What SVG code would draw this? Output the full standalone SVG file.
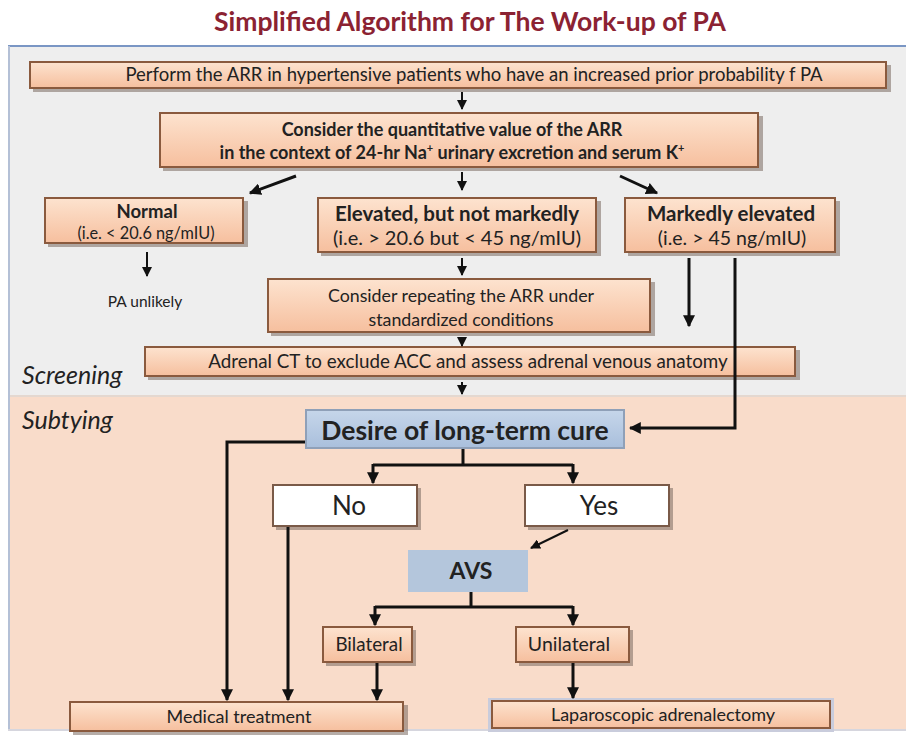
<svg xmlns="http://www.w3.org/2000/svg" width="906" height="740" viewBox="0 0 906 740">
<defs>
<linearGradient id="peach" x1="0" y1="0" x2="0" y2="1"><stop offset="0" stop-color="#FDE3CF"/><stop offset="1" stop-color="#F6BF9E"/></linearGradient>
<linearGradient id="blue" x1="0" y1="0" x2="0" y2="1"><stop offset="0" stop-color="#C6D6EA"/><stop offset="1" stop-color="#A9BFDC"/></linearGradient>
<marker id="ah" viewBox="0 0 10 10" refX="9" refY="5" markerWidth="4" markerHeight="4" orient="auto" markerUnits="strokeWidth"><path d="M0,0 L10,5 L0,10 z" fill="#111"/></marker>
<marker id="ahs" viewBox="0 0 10 10" refX="9" refY="5" markerWidth="5" markerHeight="5" orient="auto" markerUnits="strokeWidth"><path d="M0,0 L10,5 L0,10 z" fill="#111"/></marker>
</defs>
<style>
.bx{fill:url(#peach);stroke:#8A5A3E;stroke-width:2}
.sh{fill:#7a6a60;opacity:0.55}
.t{font-family:Lato,"Open Sans",sans-serif;fill:#222;text-anchor:middle}
.b{font-weight:bold}
.ln{stroke:#111;stroke-width:3;fill:none}
.ln2{stroke:#111;stroke-width:2;fill:none}
.wb{fill:#fff;stroke:#7A5A48;stroke-width:2}
.it{font-family:Lato,"Open Sans",sans-serif;font-style:italic;fill:#222;font-size:25px}
</style>
<rect x="0" y="0" width="906" height="740" fill="#fff"/>
<text x="470" y="31" font-family="Lato,'Open Sans',sans-serif" font-weight="bold" font-size="26.5" fill="#8B2232" text-anchor="middle">Simplified Algorithm for The Work-up of PA</text>
<g id="background">
<rect x="8" y="46" width="898" height="350" fill="#EEEEEE"/>
<rect x="8" y="396" width="898" height="334" fill="#F9DCCA"/>
<line x1="8" y1="396" x2="906" y2="396" stroke="#E4D8D0" stroke-width="2"/>
<line x1="8" y1="46" x2="906" y2="46" stroke="#7A96C4" stroke-width="2"/>
<line x1="9" y1="46" x2="9" y2="730" stroke="#B4C0D6" stroke-width="2"/>
<line x1="8" y1="730" x2="906" y2="730" stroke="#D6D6DE" stroke-width="2"/>
<text class="it" x="22" y="384">Screening</text>
<text class="it" x="22" y="429">Subtying</text>
</g>
<g id="n1">
<rect class="sh" x="33" y="65" width="858" height="27"/>
<rect class="bx" x="30" y="62" width="856" height="26"/>
<text class="t" x="474" y="81" font-size="18.5">Perform the ARR in hypertensive patients who have an increased prior probability f PA</text>
</g>
<g id="n2">
<rect class="sh" x="163" y="116" width="600" height="55"/>
<rect class="bx" x="160" y="113" width="598" height="54"/>
<text class="t b" x="452" y="136" font-size="18">Consider the quantitative value of the ARR</text>
<text class="t b" x="452" y="159" font-size="18">in the context of 24-hr Na<tspan font-size="11" dy="-7">+</tspan><tspan dy="7"> urinary excretion and serum K</tspan><tspan font-size="11" dy="-7">+</tspan></text>
</g>
<g id="n3">
<rect class="sh" x="48" y="201" width="200" height="46"/>
<rect class="bx" x="45" y="198" width="198" height="45"/>
<text class="t b" x="147" y="218" font-size="18.5">Normal</text>
<text class="t" x="146" y="239" font-size="16.3">(i.e. &lt; 20.6 ng/mIU)</text>
</g>
<g id="n4">
<rect class="sh" x="321" y="201" width="280" height="55"/>
<rect class="bx" x="318" y="198" width="278" height="54"/>
<text class="t b" x="457" y="221" font-size="20.5">Elevated, but not markedly</text>
<text class="t" x="457" y="245" font-size="20">(i.e. &gt; 20.6 but &lt; 45 ng/mIU)</text>
</g>
<g id="n5">
<rect class="sh" x="628" y="201" width="212" height="55"/>
<rect class="bx" x="625" y="198" width="210" height="54"/>
<text class="t b" x="731" y="221" font-size="20.5">Markedly elevated</text>
<text class="t" x="732" y="245" font-size="19.5">(i.e. &gt; 45 ng/mIU)</text>
</g>
<g id="n6">
<text class="t" x="145" y="307" font-size="15.5">PA unlikely</text>
</g>
<g id="n7">
<rect class="sh" x="271" y="282" width="384" height="54"/>
<rect class="bx" x="268" y="279" width="382" height="53"/>
<text class="t" x="461" y="302" font-size="17.8">Consider repeating the ARR under</text>
<text class="t" x="461" y="326" font-size="17.8">standardized conditions</text>
</g>
<g id="n8">
<rect class="sh" x="148" y="350" width="652" height="30"/>
<rect class="bx" x="145" y="347" width="650" height="29"/>
<text class="t" x="468" y="368" font-size="18.8">Adrenal CT to exclude ACC and assess adrenal venous anatomy</text>
</g>
<g id="n9">
<rect x="306" y="410" width="318" height="38" fill="url(#blue)" stroke="#8FA0B8" stroke-width="2"/>
<text class="t b" x="465" y="440" font-size="26.5">Desire of long-term cure</text>
</g>
<g id="n10">
<rect class="sh" x="276" y="488" width="145" height="42"/>
<rect class="wb" x="273" y="485" width="144" height="41"/>
<text class="t" x="349" y="515" font-size="26">No</text>
</g>
<g id="n11">
<rect class="sh" x="528" y="488" width="145" height="42"/>
<rect class="wb" x="525" y="485" width="144" height="41"/>
<text class="t" x="599" y="515" font-size="26">Yes</text>
</g>
<g id="n12">
<rect x="408" y="550" width="120" height="42" fill="#B4C6DC"/>
<text class="t b" x="471" y="579" font-size="23" fill="#333">AVS</text>
</g>
<g id="n13">
<rect class="sh" x="326" y="630" width="90" height="36"/>
<rect class="bx" x="323" y="627" width="89" height="35"/>
<text class="t" x="369" y="651" font-size="18.8">Bilateral</text>
</g>
<g id="n14">
<rect class="sh" x="519" y="630" width="114" height="36"/>
<rect class="bx" x="516" y="627" width="113" height="35"/>
<text class="t" x="569" y="651" font-size="19.5">Unilateral</text>
</g>
<g id="n15">
<rect class="sh" x="73" y="705" width="335" height="30"/>
<rect class="bx" x="70" y="702" width="333" height="29"/>
<text class="t" x="239" y="723" font-size="18">Medical treatment</text>
</g>
<g id="n16">
<rect x="488" y="698" width="346" height="34" fill="#C9CCDC"/>
<rect class="bx" x="492" y="701" width="338" height="27"/>
<text class="t" x="663" y="721" font-size="18">Laparoscopic adrenalectomy</text>
</g>
<g id="connectors">
<line class="ln2" x1="462" y1="92" x2="462" y2="109" marker-end="url(#ahs)"/>
<line class="ln" x1="296" y1="176" x2="250" y2="193" marker-end="url(#ah)"/>
<line class="ln2" x1="462" y1="172" x2="462" y2="190" marker-end="url(#ahs)"/>
<line class="ln" x1="620" y1="176" x2="657" y2="193" marker-end="url(#ah)"/>
<line class="ln2" x1="147" y1="252" x2="147" y2="276" marker-end="url(#ahs)"/>
<line class="ln2" x1="462" y1="258" x2="462" y2="275" marker-end="url(#ahs)"/>
<line class="ln" x1="689" y1="258" x2="689" y2="326" marker-end="url(#ah)"/>
<path class="ln" d="M735,258 V428 H630" marker-end="url(#ah)"/>
<line class="ln2" x1="462" y1="337" x2="462" y2="346" marker-end="url(#ahs)"/>
<line class="ln2" x1="462" y1="382" x2="462" y2="394" marker-end="url(#ahs)"/>
<path class="ln" d="M305,442 H227 V700" marker-end="url(#ah)"/>
<path class="ln" d="M463,449 V465 M373,465 H573" />
<line class="ln" x1="373" y1="464" x2="373" y2="483" marker-end="url(#ah)"/>
<line class="ln" x1="573" y1="464" x2="573" y2="483" marker-end="url(#ah)"/>
<line class="ln" x1="288" y1="527" x2="288" y2="700" marker-end="url(#ah)"/>
<line class="ln2" x1="568" y1="530" x2="531" y2="548" marker-end="url(#ahs)"/>
<path class="ln" d="M471,592 V607 M375,607 H573"/>
<line class="ln" x1="375" y1="606" x2="375" y2="625" marker-end="url(#ah)"/>
<line class="ln" x1="573" y1="606" x2="573" y2="625" marker-end="url(#ah)"/>
<line class="ln" x1="377" y1="663" x2="377" y2="700" marker-end="url(#ah)"/>
<line class="ln" x1="573" y1="663" x2="573" y2="698" marker-end="url(#ah)"/>
</g>
</svg>
